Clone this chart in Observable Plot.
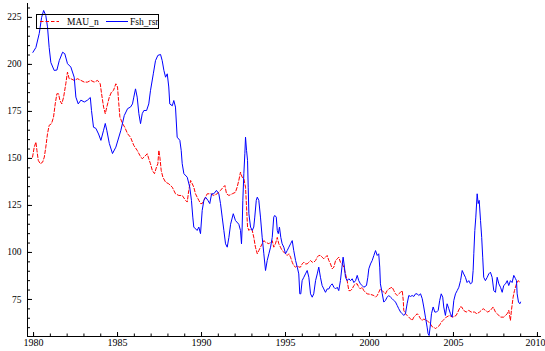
<!DOCTYPE html>
<html>
<head>
<meta charset="utf-8">
<script src="https://cdn.jsdelivr.net/npm/d3@7"></script>
<script src="https://cdn.jsdelivr.net/npm/@observablehq/plot@0.6"></script>
<style>
  html, body { margin: 0; padding: 0; background: #fff; }
  #chart svg { display: block; }
</style>
</head>
<body>
<div id="chart"></div>
<script>
// Series labels
const seriesNames = ["MAU_n", "Fsh_rsr"];

// Fsh_rsr: decimal year and value
const fshYears = [1979.96,1980.14,1980.34,1980.48,1980.60,1980.73,1980.83,1980.93,1981.03,1981.23,1981.39,1981.53,1981.73,1981.86,1982.02,1982.22,1982.42,1982.52,1982.66,1982.82,1983.02,1983.21,1983.38,1983.45,1983.57,1983.71,1983.87,1984.01,1984.17,1984.27,1984.36,1984.51,1984.70,1984.90,1985.20,1985.40,1985.60,1985.77,1985.89,1985.97,1986.07,1986.17,1986.27,1986.37,1986.47,1986.57,1986.73,1986.86,1986.96,1987.13,1987.26,1987.40,1987.56,1987.66,1987.76,1987.86,1987.96,1988.05,1988.11,1988.26,1988.35,1988.45,1988.55,1988.71,1988.79,1988.85,1988.95,1989.15,1989.30,1989.40,1989.48,1989.54,1989.74,1989.84,1989.94,1990.04,1990.14,1990.24,1990.38,1990.49,1990.60,1990.73,1990.89,1991.03,1991.13,1991.23,1991.33,1991.43,1991.53,1991.63,1991.73,1991.89,1992.02,1992.22,1992.32,1992.38,1992.42,1992.46,1992.52,1992.58,1992.62,1992.68,1992.74,1992.78,1992.82,1992.92,1993.02,1993.11,1993.17,1993.26,1993.32,1993.41,1993.51,1993.61,1993.71,1993.81,1993.91,1994.01,1994.11,1994.21,1994.30,1994.36,1994.45,1994.51,1994.57,1994.64,1994.72,1994.80,1994.90,1995.00,1995.10,1995.20,1995.30,1995.40,1995.49,1995.60,1995.70,1995.79,1995.85,1995.91,1995.99,1996.09,1996.19,1996.29,1996.39,1996.49,1996.59,1996.68,1996.79,1996.89,1996.98,1997.08,1997.18,1997.28,1997.38,1997.48,1997.58,1997.68,1997.78,1997.88,1997.98,1998.08,1998.17,1998.27,1998.36,1998.43,1998.51,1998.57,1998.67,1998.77,1998.87,1998.97,1999.07,1999.17,1999.27,1999.36,1999.46,1999.56,1999.66,1999.82,1999.90,1999.96,2000.06,2000.16,2000.26,2000.36,2000.46,2000.55,2000.61,2000.65,2000.76,2000.85,2000.95,2001.05,2001.15,2001.25,2001.35,2001.45,2001.55,2001.65,2001.74,2001.85,2001.95,2002.04,2002.14,2002.24,2002.34,2002.44,2002.54,2002.64,2002.74,2002.84,2002.93,2003.04,2003.14,2003.23,2003.33,2003.43,2003.49,2003.55,2003.63,2003.69,2003.79,2003.89,2003.99,2004.09,2004.18,2004.27,2004.36,2004.42,2004.52,2004.62,2004.72,2004.82,2004.92,2005.02,2005.12,2005.22,2005.32,2005.42,2005.52,2005.61,2005.71,2005.81,2005.91,2006.01,2006.11,2006.17,2006.21,2006.27,2006.33,2006.41,2006.47,2006.53,2006.61,2006.68,2006.74,2006.80,2006.90,2007.01,2007.10,2007.20,2007.30,2007.40,2007.50,2007.60,2007.70,2007.80,2007.90,2007.99,2008.10,2008.20,2008.29,2008.39,2008.49,2008.59,2008.69,2008.75,2008.79,2008.87,2008.95,2008.99];
const fshValues = [206.4,209,216.5,225,228.7,226,220,209,201,196.8,197,202,206.5,205.7,200.4,198.6,193.2,182.6,179,181,180,181,182.4,175.5,166.6,166,163,159.6,165,168.6,165,158,152.6,156,165,172.8,176.5,177.3,179,182.6,187,182.6,173.8,168.5,173.8,175.5,175.5,179,186,195,202,204.8,205.3,202,196.8,193.2,195,188,179,178,180.8,177.3,161.3,159.6,154.3,147.2,141.9,140,134.7,127.7,118.8,113.5,111.7,113.5,110,122.3,127.7,129.4,127.7,126,131.2,131.2,133,131.2,126,118.8,111.7,104.6,102.8,108,115,120.6,117,115,111.7,104.6,113.5,127.7,141.9,152.5,161.3,154.3,149,134.7,120.6,113.5,111.7,113.5,118.8,127.7,129.4,127.7,118.8,108.1,99.3,90.4,95.7,99.3,102.8,108,118.8,119.7,118.8,111.7,110,113.5,108,104.6,102.8,99.3,101,102.8,104.6,106.3,101,95.7,92.2,88.6,78,78,85,86.8,88.6,90.4,86.8,78,76.2,78,85,88.6,92.2,86.8,82.4,80.6,78.8,80.6,80.6,82.4,83.3,81.5,80.6,81.5,79.7,85,92.2,97.5,92.2,86.8,85,86,85,86,84,85,87.8,85,83.3,82.4,81.5,82.4,86.8,91.3,93.9,95.7,98.4,101,98.4,99.3,92.2,83.3,78,73.6,74.5,76.2,77.1,76.2,75.4,74.5,73.6,71.8,70.1,68.3,67.4,66.5,67.4,72.7,77.1,76.6,77.1,76.6,78,78,77.1,78,75.4,71,65.6,60.3,56.7,55.8,61.9,67.4,71,68.3,68.3,69.2,74.5,78,76.2,71,66.5,72.7,70.1,67.4,65.6,74.5,78,79.7,81.5,85,90.4,88.6,86.8,84,85,83.3,84,90.4,99.3,111.7,118.8,131.2,126,127.7,117,108,97.5,86.8,85,86.8,88.6,89.5,86.8,79.7,78.8,86.8,83.3,81.5,78.8,82.4,83.3,85,82.4,85,84,87.8,86.1,85,78,73.6,72.7,73.6];

// MAU_n: decimal year and value
const mauYears = [1979.94,1980.04,1980.14,1980.20,1980.28,1980.40,1980.54,1980.64,1980.73,1980.83,1980.93,1981.07,1981.19,1981.29,1981.39,1981.49,1981.57,1981.68,1981.79,1981.92,1982.02,1982.12,1982.22,1982.42,1982.62,1982.82,1983.02,1983.21,1983.41,1983.61,1983.81,1983.97,1984.05,1984.17,1984.27,1984.36,1984.51,1984.64,1984.76,1984.90,1985.00,1985.06,1985.14,1985.30,1985.43,1985.60,1985.77,1985.97,1986.17,1986.33,1986.47,1986.61,1986.77,1986.86,1986.96,1987.07,1987.20,1987.32,1987.40,1987.46,1987.52,1987.60,1987.70,1987.86,1988.05,1988.26,1988.45,1988.65,1988.85,1989.05,1989.15,1989.24,1989.35,1989.45,1989.54,1989.64,1989.74,1989.84,1989.94,1990.04,1990.14,1990.24,1990.34,1990.54,1990.73,1990.93,1991.13,1991.29,1991.39,1991.49,1991.63,1991.83,1992.02,1992.12,1992.22,1992.32,1992.42,1992.52,1992.62,1992.68,1992.74,1992.82,1992.92,1993.02,1993.11,1993.21,1993.32,1993.41,1993.51,1993.61,1993.71,1993.81,1994.01,1994.11,1994.21,1994.30,1994.40,1994.51,1994.60,1994.70,1994.80,1994.90,1995.00,1995.10,1995.20,1995.30,1995.40,1995.49,1995.60,1995.70,1995.79,1995.89,1995.99,1996.09,1996.19,1996.29,1996.39,1996.49,1996.59,1996.68,1996.79,1996.89,1996.98,1997.08,1997.18,1997.28,1997.38,1997.48,1997.58,1997.68,1997.78,1997.88,1997.98,1998.08,1998.17,1998.27,1998.38,1998.47,1998.57,1998.67,1998.77,1998.87,1998.97,1999.07,1999.17,1999.27,1999.36,1999.46,1999.56,1999.66,1999.76,1999.86,2000.06,2000.26,2000.36,2000.46,2000.55,2000.65,2000.76,2000.85,2000.95,2001.05,2001.15,2001.25,2001.35,2001.45,2001.55,2001.65,2001.74,2001.85,2001.95,2002.01,2002.04,2002.14,2002.24,2002.34,2002.44,2002.54,2002.64,2002.74,2002.84,2002.93,2003.04,2003.14,2003.23,2003.33,2003.43,2003.53,2003.63,2003.73,2003.83,2003.93,2004.03,2004.16,2004.27,2004.37,2004.57,2004.76,2004.96,2005.16,2005.26,2005.40,2005.49,2005.60,2005.76,2005.91,2006.05,2006.25,2006.39,2006.55,2006.77,2006.90,2007.04,2007.20,2007.36,2007.50,2007.60,2007.80,2007.99,2008.20,2008.29,2008.39,2008.45,2008.55,2008.63,2008.75,2008.85,2008.99];
const mauValues = [150.7,156,158.7,154.3,149,147.2,148,150.7,156,163.1,167.6,168.5,172,179,184.4,184.4,180.8,179,182.6,189.7,195.9,192.4,192.4,191.5,192.4,191.5,190.6,190.6,191.5,190.6,191.5,189.7,184.4,177.3,173.8,177.3,182.6,185.3,186.2,189.7,188,180.8,172,168.5,166.6,163.1,161.3,156.9,154.3,151.6,149.8,151,152.5,149.8,147.2,143.6,141.9,145.4,147.2,154.3,150.7,143.6,140,137.4,136.5,134.7,131.2,130.3,130.3,127.7,126.8,133,138.3,136.5,134.7,131.2,129.4,127.7,126,126,127.7,129.4,131.2,131.2,130.3,131.2,133,134.7,135.6,131.2,130.3,131.2,132,134.7,138.3,142.7,140,139.2,134.7,124.1,113.5,111.7,112.6,111.7,108.1,102.8,99.3,101,102.8,104.6,106.3,105.5,104.6,105.5,106.3,102.8,104.6,108,104.6,102.8,101,100.2,99.3,98.4,99.3,97.5,94.8,93,92.2,93,92.2,92.2,93.9,94.8,93.9,93.9,94.8,95.7,94.8,94.8,95.7,97.5,98.4,98.4,97.5,96.6,97.5,98.4,95.7,93.9,91.3,92.2,95.7,96.6,97.5,94.8,93.9,92.2,88.6,85,79.7,79.7,80.6,82.4,83.3,83.3,81.5,80.6,81.5,79.7,78.8,78,77.7,77.1,76.2,77.1,78.8,80.6,79.7,78.8,78,79.7,80.6,81.1,81.5,79.7,78,77.1,78,78.8,79.7,74.5,69.2,67.4,66.5,65.6,64.7,63.8,65.6,66.5,67.4,66.5,64.7,63.8,64.7,63.8,63.8,62.9,61.9,60.5,60.3,59.4,60.3,61.1,62.9,63.8,65.6,66.5,65.6,66.5,68.3,71,71,69.2,68.3,69.2,68.3,68.3,67.4,68.3,70.1,69.2,68.3,69.2,71,68.3,67.4,65.6,65.6,67.4,69.2,63.8,69.2,76.2,79.7,83.3,85,84];

// Axis ticks
const xTicks = [1980, 1985, 1990, 1995, 2000, 2005, 2010];
const xMinorTicks = d3.range(1980, 2011, 1);
const yTicks = [75, 100, 125, 150, 175, 200, 225];
const yMinorTicks = d3.range(60, 231, 5);

const xDomain = [1979.64, 2010.24];
const yDomain = [55.3, 232.4];

const fsh = fshYears.map((t, i) => ({t, v: fshValues[i]}));
const mau = mauYears.map((t, i) => ({t, v: mauValues[i]}));

const blank = () => "";
const fontFamily = "'Liberation Serif', 'Times New Roman', serif";

const plot = Plot.plot({
  width: 545,
  height: 351,
  marginLeft: 27,
  marginRight: 4,
  marginTop: 3,
  marginBottom: 15,
  style: {fontFamily, fontSize: "10px", background: "#fff", color: "#000"},
  x: {domain: xDomain, label: null},
  y: {domain: yDomain, label: null},
  marks: [
    // labels (the last year label is nudged left so it stays inside the frame)
    Plot.axisX({ticks: xTicks.slice(0, -1), tickSize: 0, tickPadding: 2, tickFormat: d => String(d), label: null, fontSize: 10}),
    Plot.axisX({ticks: xTicks.slice(-1), tickSize: 0, tickPadding: 2, dx: -2, tickFormat: d => String(d), label: null, fontSize: 10}),
    Plot.axisY({ticks: yTicks, tickSize: 0, tickPadding: 6, tickFormat: d => String(d), label: null, fontSize: 9.5}),
    // inward major and minor ticks
    Plot.axisX({ticks: xTicks, tickSize: 4, dy: -4, tickFormat: blank, label: null}),
    Plot.axisX({ticks: xMinorTicks, tickSize: 2.5, dy: -2.5, tickFormat: blank, label: null}),
    Plot.axisY({ticks: yTicks, tickSize: 5, dx: 5, tickFormat: blank, label: null}),
    Plot.axisY({ticks: yMinorTicks, tickSize: 3, dx: 3, tickFormat: blank, label: null}),
    // axis lines
    Plot.ruleX([xDomain[0]], {stroke: "#000"}),
    Plot.ruleY([yDomain[0]], {stroke: "#000"}),
    // series
    Plot.line(mau, {x: "t", y: "v", stroke: "#ff0000", strokeWidth: 1, strokeDasharray: "3.5,2"}),
    Plot.line(fsh, {x: "t", y: "v", stroke: "#0000ff", strokeWidth: 1})
  ]
});

// legend box in the upper-left corner of the plot area
const svg = d3.select(plot);
const lg = svg.append("g")
  .attr("font-family", fontFamily)
  .attr("font-size", 9.5)
  .attr("text-anchor", "start");
lg.append("rect").attr("x", 36.5).attr("y", 14.5).attr("width", 122).attr("height", 14)
  .attr("fill", "none").attr("stroke", "#000").attr("stroke-width", 1);
lg.append("line").attr("x1", 40).attr("x2", 59).attr("y1", 21.5).attr("y2", 21.5)
  .attr("stroke", "#ff0000").attr("stroke-dasharray", "3.5,2");
lg.append("text").attr("x", 67).attr("y", 25).attr("fill", "#000").text(seriesNames[0]);
lg.append("line").attr("x1", 106).attr("x2", 128).attr("y1", 21.5).attr("y2", 21.5)
  .attr("stroke", "#0000ff");
lg.append("text").attr("x", 130).attr("y", 25).attr("fill", "#000").text(seriesNames[1]);

document.getElementById("chart").appendChild(plot);
</script>
</body>
</html>
